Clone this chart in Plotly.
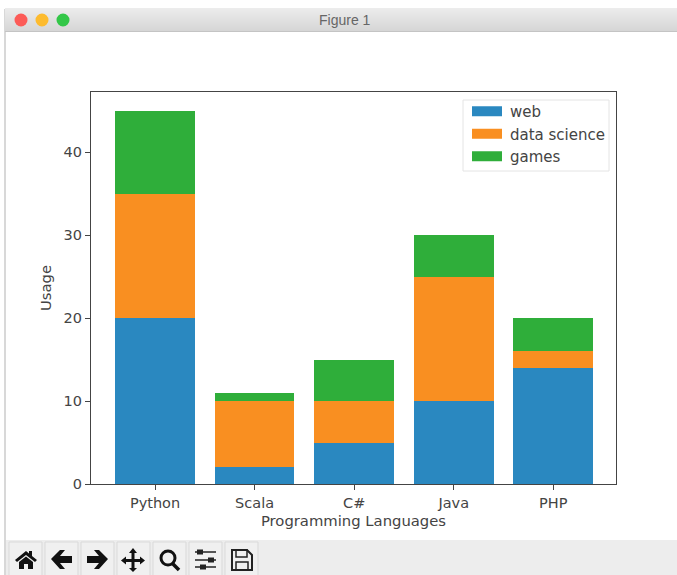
import plotly.graph_objects as go

languages = ["Python", "Scala", "C#", "Java", "PHP"]
web = [20, 2, 5, 10, 14]
data_science = [15, 8, 5, 15, 2]
games = [10, 1, 5, 5, 4]
y_ticks = [0, 10, 20, 30, 40]

W, H = 677, 575
L, R, T, B = 91, 61, 92, 91
PW, PH = W - L - R, H - T - B


def px(x):
    return (x - L) / PW


def py(y):
    return 1 - (y - T) / PH


def rect(x0, y0, x1, y1, fill, line=None, lw=1):
    return dict(type="rect", xref="paper", yref="paper", x0=px(x0), x1=px(x1), y0=py(y0), y1=py(y1),
                fillcolor=fill, line=dict(color=line or fill, width=lw if line else 0))


def circle(cx, cy, r, fill, line=None, lw=1):
    return dict(type="circle", xref="paper", yref="paper", x0=px(cx - r), x1=px(cx + r), y0=py(cy - r), y1=py(cy + r),
                fillcolor=fill, line=dict(color=line or fill, width=lw if line else 0))


def poly(points, fill="#111111", line=None, lw=1, close=True):
    d = "M" + " L".join(f"{px(a):.5f},{py(b):.5f}" for a, b in points) + (" Z" if close else "")
    return dict(type="path", xref="paper", yref="paper", path=d,
                fillcolor=fill if close else "rgba(0,0,0,0)",
                line=dict(color=line or fill, width=lw if line else 0))


shapes = [rect(4, 9, 6, 575, "#d8d8d8")]
# title bar: one pixel band per row, lightening to darkening as in the window chrome
for row in range(23):
    g = 236 - row
    shapes.append(rect(5, 8 + row, 677, 9 + row, f"rgb({g},{g},{g})"))
shapes.append(rect(5, 31, 677, 32, "#c4c4c4"))
shapes += [circle(21, 20, 6.5, "#fc5b57"), circle(42, 20, 6.5, "#fdbb2e"), circle(63, 20, 6.5, "#33c748")]
# toolbar
shapes.append(rect(6, 540, 677, 575, "#ededed"))
for x in [9, 45, 81, 117, 153, 189, 225]:
    shapes.append(rect(x, 542, x + 33, 576, "#f0f0f0", "#d9d9d9", 1))

# home
shapes.append(poly([(15, 560), (26, 551), (29, 553.5), (29, 551), (32, 551), (32, 556), (37, 560), (35, 562),
                    (26, 555), (17, 562)]))
shapes.append(poly([(19, 562), (26, 556.5), (33, 562), (33, 569), (28, 569), (28, 564), (24, 564), (24, 569), (19, 569)]))
# back
shapes.append(poly([(51, 559), (60, 550), (65, 550), (60, 556), (72, 556), (72, 563), (60, 563), (65, 569), (60, 569)]))
# forward
shapes.append(poly([(108, 559), (99, 550), (94, 550), (99, 556), (87, 556), (87, 563), (99, 563), (94, 569), (99, 569)]))
# move
shapes.append(poly([(133, 548), (137, 553), (134.5, 553), (134.5, 559), (140, 559), (140, 556.5), (145, 560.5),
                    (140, 564.5), (140, 562), (134.5, 562), (134.5, 568), (137, 568), (133, 572), (129, 568),
                    (131.5, 568), (131.5, 562), (126, 562), (126, 564.5), (121, 560.5), (126, 556.5), (126, 559),
                    (131.5, 559), (131.5, 553), (129, 553)]))
# zoom
shapes.append(circle(168, 558, 7, "rgba(0,0,0,0)", "#111111", 3))
shapes.append(poly([(172, 563), (179, 570)], line="#111111", lw=3.5, close=False))
# sliders
for yy, kx in [(552, 200), (560, 211), (567, 203)]:
    shapes.append(poly([(195, yy), (216, yy)], line="#222222", lw=1.5, close=False))
    shapes.append(rect(kx - 3, yy - 2.5, kx + 3, yy + 2.5, "#222222"))
# save
shapes.append(poly([(232, 550), (247, 550), (252, 555), (252, 570), (232, 570)], fill="rgba(0,0,0,0)", line="#222222", lw=2))
shapes.append(rect(236, 550, 247, 557, "rgba(0,0,0,0)", "#222222", 1.5))
shapes.append(rect(236, 562, 248, 570, "rgba(0,0,0,0)", "#222222", 1.5))
# legend frame
shapes.append(rect(463, 100, 609, 171, "#ffffff", "#e4e4e4", 1))

fig = go.Figure()
fig.add_bar(name="web", x=languages, y=web, marker=dict(color="#2a88c0", line_width=0))
fig.add_bar(name="data science", x=languages, y=data_science, marker=dict(color="#f98f21", line_width=0))
fig.add_bar(name="games", x=languages, y=games, marker=dict(color="#2fae3a", line_width=0))

TEXT = "#444444"
fig.update_layout(
    width=W, height=H, margin=dict(l=L, r=R, t=T, b=B, autoexpand=False),
    barmode="stack", bargap=0.2, paper_bgcolor="white", plot_bgcolor="white",
    font=dict(family="DejaVu Sans", size=14.5, color=TEXT),
    shapes=shapes,
    showlegend=True,
    legend=dict(x=px(464), y=py(95), xanchor="left", yanchor="top", traceorder="normal",
                bgcolor="rgba(0,0,0,0)", borderwidth=0,
                font=dict(size=15, color=TEXT), itemwidth=36, tracegroupgap=0),
    annotations=[dict(text="Figure 1", xref="paper", yref="paper", x=px(345), y=py(20), xanchor="center",
                      yanchor="middle", showarrow=False,
                      font=dict(family="Liberation Sans", size=14, color="#666666"))],
    xaxis=dict(range=[-0.643, 4.63], tickmode="array", tickvals=languages, ticks="outside", ticklen=5, tickwidth=1,
               tickcolor="#444444", linecolor="#444444", linewidth=1.3, mirror=True, showgrid=False, zeroline=False,
               title=dict(text="Programming Languages", standoff=6, font=dict(size=14.8, color=TEXT)),
               tickfont=dict(size=14.5, color=TEXT)),
    yaxis=dict(range=[0, 47.25], tickmode="array", tickvals=y_ticks, ticks="outside", ticklen=5, tickwidth=1,
               tickcolor="#444444", linecolor="#444444", linewidth=1.3, mirror=True, showgrid=False, zeroline=False,
               title=dict(text="Usage", standoff=8, font=dict(size=14.8, color=TEXT)),
               tickfont=dict(size=14.5, color=TEXT)),
)

post = """
document.body.style.margin='0';
document.querySelectorAll('.legendpoints path').forEach(function(p){p.setAttribute('d','M15,5H-15V-5H15Z');});
"""
fig.write_html("out.html", post_script=post, config=dict(displayModeBar=False))
